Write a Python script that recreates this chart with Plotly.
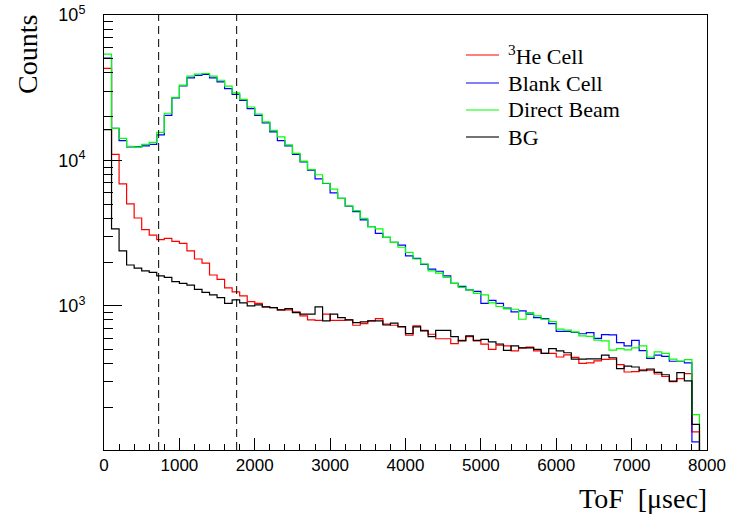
import numpy as np
import plotly.graph_objects as go

# ---- data (counts per 100 usec bin, 0 .. 8000 usec) ----
bin_width = 100
bin_edges = np.arange(0, 8000 + bin_width, bin_width)

he3_cell = [42900, 11000, 6910, 5030, 4020, 3340, 3070, 2850, 2910, 2780,
            2690, 2390, 2100, 1970, 1630, 1520, 1330, 1250, 1170, 1070,
            1040, 985, 973, 938, 938, 910, 853, 800, 796, 877,
            796, 796, 800, 736, 755, 788, 817, 748, 736, 716,
            628, 728, 679, 638, 594, 594, 550, 580, 614, 574,
            545, 502, 538, 530, 490, 515, 521, 490, 472, 472,
            445, 460, 442, 403, 406, 418, 429, 431, 394, 351,
            353, 363, 362, 340, 327, 301, 316, 342, 136, 0]

blank_cell = [50500, 16600, 13700, 12400, 12400, 12600, 12900, 15000, 20400, 26900,
              32500, 37000, 38500, 39000, 37000, 34700, 31200, 28500, 25900, 22700,
              20400, 18100, 15700, 13700, 12600, 11000, 9790, 8570, 7480, 6940,
              5980, 5490, 4840, 4450, 3900, 3510, 3150, 2960, 2730, 2620,
              2210, 2120, 1930, 1790, 1730, 1610, 1430, 1360, 1290, 1260,
              1040, 1090, 1040, 964, 910, 924, 877, 830, 817, 755,
              667, 667, 656, 643, 655, 597, 634, 631, 558, 530,
              580, 492, 436, 458, 450, 416, 416, 406, 116, 0]

direct_beam = [53800, 16600, 14200, 12500, 12300, 12900, 13300, 15600, 21100, 27200,
               32900, 38000, 39200, 39600, 38000, 35600, 32400, 29100, 26300, 23300,
               20800, 18400, 16100, 14500, 12800, 11200, 9890, 8660, 7970, 6970,
               6340, 5490, 4870, 4520, 4000, 3510, 3380, 2960, 2730, 2530,
               2330, 2100, 1940, 1740, 1680, 1570, 1430, 1340, 1290, 1220,
               1190, 1050, 990, 953, 948, 809, 899, 853, 809, 780,
               693, 682, 662, 621, 617, 581, 574, 496, 509, 498,
               515, 530, 445, 483, 472, 431, 416, 427, 179, 0]

bg = [16300, 3380, 2390, 1910, 1820, 1740, 1700, 1610, 1570, 1470,
      1430, 1390, 1300, 1240, 1190, 1140, 1040, 1100, 1050, 1000,
      1015, 985, 973, 938, 958, 899, 877, 877, 985, 788,
      877, 830, 800, 767, 776, 788, 788, 739, 760, 720,
      644, 716, 673, 614, 679, 679, 614, 574, 621, 580,
      589, 565, 547, 494, 530, 515, 515, 502, 472, 508,
      490, 476, 431, 430, 432, 432, 459, 440, 370, 385,
      380, 358, 368, 349, 336, 304, 348, 305, 153, 0]

series_names = ["<sup>3</sup>He Cell", "Blank Cell", "Direct Beam", "BG"]
series_colors = ["#ff0000", "#0000ff", "#00ff00", "#000000"]
legend_colors = ["#ff0000", "#0000ff", "#00ff00", "#444444"]

window_edges = [725, 1760]   # dashed ToF window markers

x_ticks = list(range(0, 8001, 1000))
y_major = [1e3, 1e4, 1e5]
y_major_text = ["10<sup>3</sup>", "10<sup>4</sup>", "10<sup>5</sup>"]
y_minor = [m * 10 ** e for e in (2, 3, 4) for m in range(2, 10)]

# ---- layout geometry (pixels) ----
W, H = 730, 515
L, R, T, B = 104, 23, 15, 65
PW, PH = W - L - R, H - T - B


def px_x(p):
    return (p - L) / PW


def px_y(p):
    return (H - B - p) / PH


# ---- figure ----
fig = go.Figure()
x_left = bin_edges[:-1]
floor_val = 1.0  # empty bins drawn down below the axis floor like a histogram
for name, vals, col in zip(series_names, [he3_cell, blank_cell, direct_beam, bg], series_colors):
    v = np.asarray(vals, dtype=float)
    y = np.where(v > 0, v, floor_val)
    fig.add_trace(go.Scatter(
        x=x_left, y=y, mode="lines", name=name, showlegend=False,
        line=dict(color=col, width=1.2, shape="hv"),
    ))

for xe in window_edges:
    fig.add_shape(type="line", x0=xe, x1=xe, y0=0, y1=1, xref="x", yref="paper",
                  line=dict(color="black", width=1, dash="8px,5px"))

annotations = [
    dict(text="Counts", textangle=-90, x=px_x(27), y=px_y(55), xref="paper", yref="paper",
         xanchor="center", yanchor="middle", showarrow=False,
         font=dict(family="Liberation Serif", size=28, color="black")),
    dict(text="ToF\u00a0\u00a0[\u03bcsec]", x=px_x(709), y=px_y(499), xref="paper", yref="paper",
         xanchor="right", yanchor="middle", showarrow=False,
         font=dict(family="Liberation Serif", size=28, color="black")),
]

# legend drawn as line samples + labels
legend_rows = [55, 83, 110, 137]
for name, col, ry in zip(series_names, legend_colors, legend_rows):
    fig.add_shape(type="line", xref="paper", yref="paper",
                  x0=px_x(466), x1=px_x(499), y0=px_y(ry), y1=px_y(ry),
                  line=dict(color=col, width=1.5 if col == "#444444" else 1.2))
    annotations.append(dict(text=name, x=px_x(506), y=px_y(ry), xref="paper", yref="paper",
                            xanchor="left", yanchor="middle", showarrow=False,
                            font=dict(family="Liberation Serif", size=22, color="black")))

fig.update_layout(
    width=W, height=H,
    margin=dict(l=L, r=R, t=T, b=B, autoexpand=False),
    paper_bgcolor="white", plot_bgcolor="white",
    showlegend=False,
    annotations=annotations,
)

fig.update_xaxes(
    range=[0, 8000], showline=True, linecolor="black", linewidth=1, mirror=True,
    ticks="inside", ticklen=12, tickwidth=1, tickcolor="black",
    tickmode="array", tickvals=x_ticks, automargin=False,
    minor=dict(ticks="inside", ticklen=6, dtick=200, tick0=0, tickcolor="black", showgrid=False),
    showgrid=False, zeroline=False,
    tickfont=dict(family="Liberation Sans", size=17, color="black"),
)
fig.update_yaxes(
    type="log", range=[2.009, 5.0], showline=True, linecolor="black", linewidth=1, mirror=True,
    ticks="inside", ticklen=18, tickwidth=1, tickcolor="black",
    tickmode="array", tickvals=y_major, ticktext=y_major_text, automargin=False,
    minor=dict(ticks="inside", ticklen=9, tickmode="array", tickvals=y_minor,
               tickcolor="black", showgrid=False),
    showgrid=False, zeroline=False, ticklabelstandoff=14,
    tickfont=dict(family="Liberation Sans", size=18, color="black"),
)

fig.write_html("out.html",
               config={"displayModeBar": False},
               post_script="document.body.style.margin='0px';document.body.style.overflow='hidden';")
